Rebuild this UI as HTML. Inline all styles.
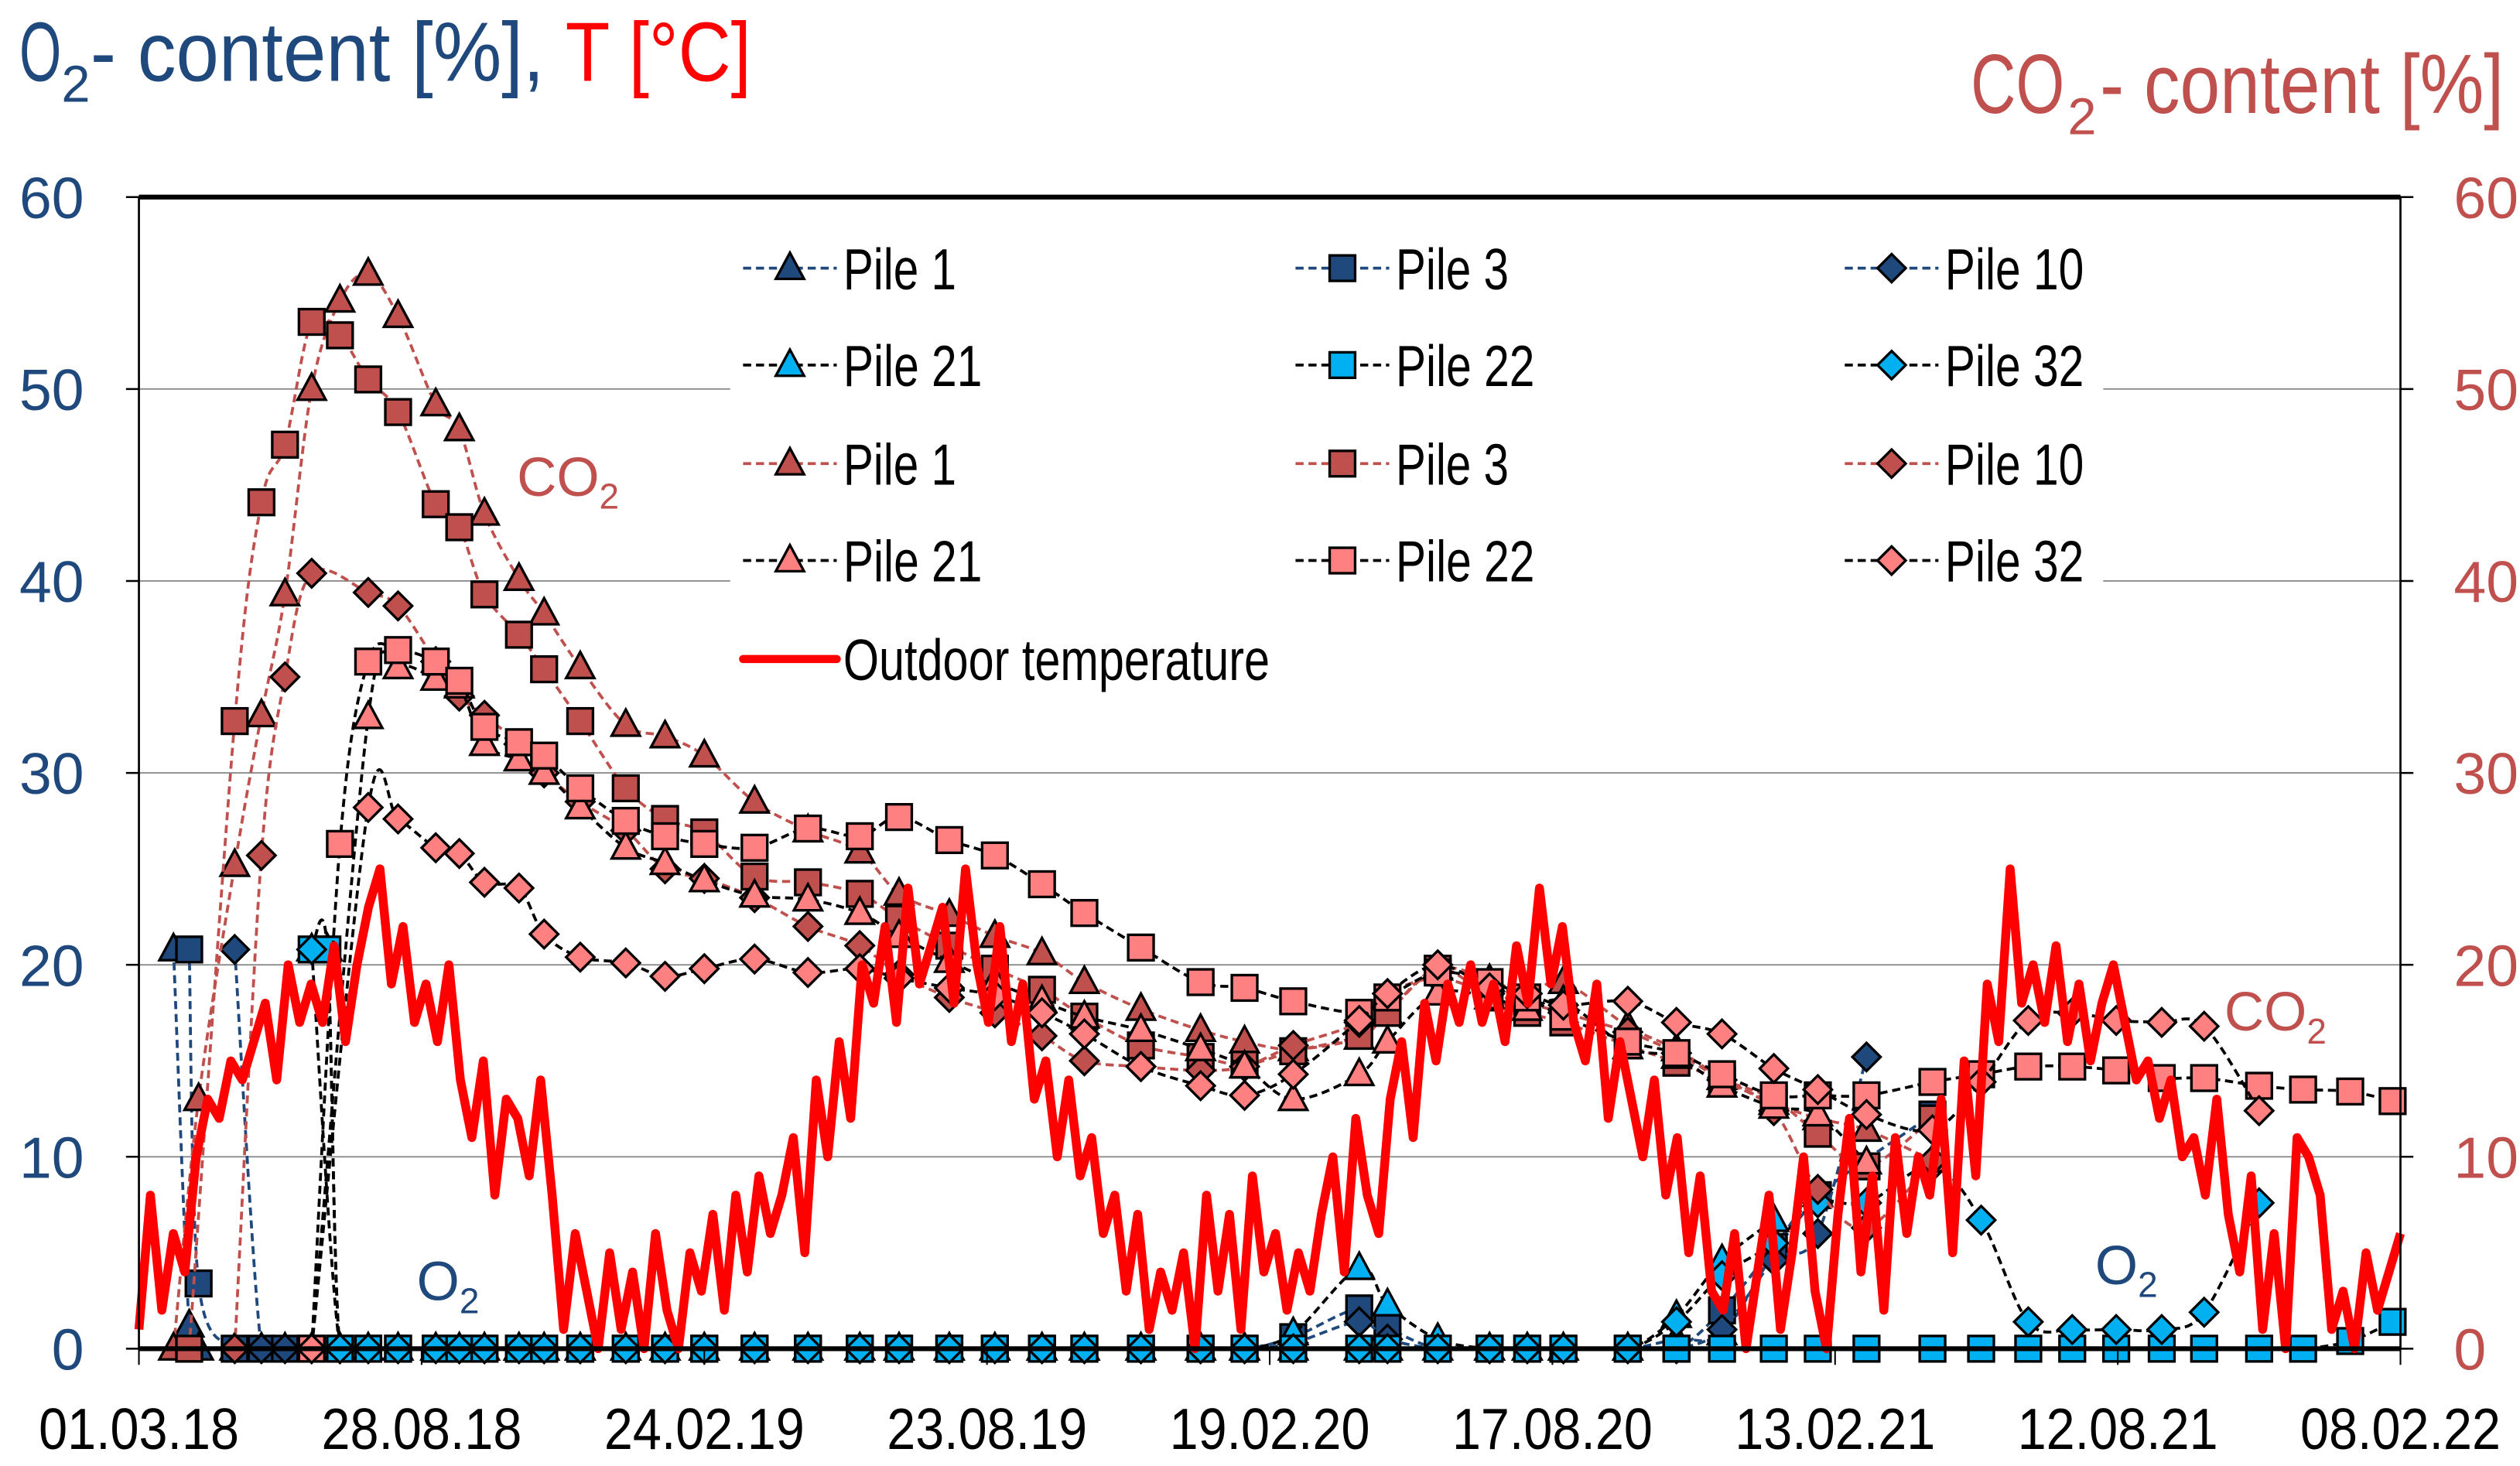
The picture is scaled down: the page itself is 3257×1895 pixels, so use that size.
<!DOCTYPE html>
<html><head><meta charset="utf-8">
<style>
html,body{margin:0;padding:0;background:#fff;}
svg{display:block;}
text{font-family:"Liberation Sans Narrow","Liberation Sans",sans-serif;}
</style></head>
<body>
<svg id="chart" width="3257" height="1895" viewBox="0 0 1560 907.6" xmlns="http://www.w3.org/2000/svg">
<rect x="0" y="0" width="1560" height="907.6" fill="#fff"/>
<g id="grid"></g>
<g id="series"></g>
<g id="axes"></g>
<g id="legend"></g>
<g>
 <text x="12" y="50" font-size="52" fill="#1f497d" textLength="26" lengthAdjust="spacingAndGlyphs">O</text>
 <text x="38" y="63" font-size="32" fill="#1f497d">2</text>
 <text x="56" y="50" font-size="52" fill="#1f497d" textLength="281" lengthAdjust="spacingAndGlyphs">- content [%],</text>
 <text x="350" y="50" font-size="52" fill="#ff0000" textLength="115" lengthAdjust="spacingAndGlyphs">T [°C]</text>
</g>
<g>
 <text x="1220" y="70" font-size="52" fill="#c0504d" textLength="58" lengthAdjust="spacingAndGlyphs">CO</text>
 <text x="1280" y="83" font-size="32" fill="#c0504d">2</text>
 <text x="1300" y="70" font-size="52" fill="#c0504d" textLength="250" lengthAdjust="spacingAndGlyphs">- content [%]</text>
</g>
<g><text x="320" y="307" font-size="34" fill="#c0504d">CO<tspan font-size="22" dy="8">2</tspan></text></g>
<g><text x="1377" y="638" font-size="34" fill="#c0504d">CO<tspan font-size="22" dy="8">2</tspan></text></g>
<g><text x="258" y="805" font-size="34" fill="#1f497d">O<tspan font-size="22" dy="8">2</tspan></text></g>
<g><text x="1297" y="795" font-size="34" fill="#1f497d">O<tspan font-size="22" dy="8">2</tspan></text></g>
</svg>
<script>
// ---- data ----
const xTickLabels = ["01.03.18","28.08.18","24.02.19","23.08.19","19.02.20","17.08.20","13.02.21","12.08.21","08.02.22"];
const yTicks = [0,10,20,30,40,50,60];
// sampling days since 01.03.18
const dates = [22,32,38,61,78, 93,110,120,128,146, 165,189,204,220,242, 258,281,310,335,360,
 392,426,459,484,516, 545,575,602,638,676, 704,735,777,795,827, 860,884,907,948,979,
 1008,1041,1069,1100,1142, 1173,1203,1231,1259,1288, 1315,1350,1378,1408,1435];
const N = null;
const co2Pile1 = [0,N,13,25.2,33, 39.3,50,N,54.6,56, 53.8,49.2,47.9,43.5,40.1, 38.3,35.5,32.5,31.9,30.9,
 28.5,27,25.9,23.7,22.6, 21.5,20.6,19.1,17.7,16.6, 16,15.6,16.2,17.5,19.8, 19.2,18.5,19.1,16.8,15.6,
 14.1,12.8,12,11.4,9.8, N,N,N,N,N, N,N,N,N,N];
const co2Pile3 = [N,0,N,32.7,44.1, 47.1,53.5,N,52.8,50.5, 48.8,44,42.8,39.3,37.2, 35.4,32.7,29.2,27.6,26.9,
 24.6,24.3,23.7,22.4,21, 19.8,18.7,17.3,15.8,15.2, 14.8,15.5,16.3,17.5,19.8, 18.3,17.5,17,15.8,14.9,
 14,13,11.2,9.5,12, N,N,N,N,N, N,N,N,N,N];
const co2Pile10 = [N,N,N,0,25.7, 35,40.4,N,N,39.4, 38.7,35.8,34,33,31.5, 30,28.5,27,25,24.5,
 23.5,22,21,19.5,18.3, 17.5,16.3,15,14.7,14.5, 14.7,15.8,17,18.5,19.3, 18.5,18,17.5,16.5,15.4,
 14,12.4,8.3,6.3,9.8, N,N,N,N,N, N,N,N,N,N];
const co2Pile21 = [N,N,N,N,N, N,0,N,N,32.9, 35.5,34.9,34.5,31.5,30.7, 30,28.2,26.1,25.3,24.4,
 23.6,23.4,22.7,21.5,20.2, 19.1,18.1,17.3,16.6,15.6, 14.7,13,14.3,16,18.5, 18.3,17.7,18.1,15.7,15.2,
 13.7,12.6,12.2,9.7,N, N,N,N,N,N, N,N,N,N,N];
const co2Pile22 = [N,N,N,N,N, N,0,N,26.3,35.8, 36.4,35.8,34.8,32.4,31.6, 30.9,29.2,27.5,26.7,26.3,
 26.1,27.1,26.7,27.7,26.5, 25.7,24.2,22.7,20.9,19.1, 18.8,18.1,17.5,18.3,19.6, 19.1,18.3,17.3,16,15.4,
 14.3,13.2,13.2,13.2,13.9, 14.3,14.7,14.7,14.5,14.1, 14.1,13.7,13.5,13.4,12.9];
const co2Pile32 = [N,N,N,N,N, N,0,N,N,28.2, 27.6,26.1,25.8,24.3,24, 21.6,20.4,20.1,19.4,19.8,
 20.3,19.6,19.8,19.3,18.8, 18.4,17.5,16.4,14.7,13.7, 13.2,14.3,17.1,18.5,20, 18.8,18.5,17.9,18.1,17,
 16.4,14.6,13.5,12.2,11.4, 13.9,17.1,17.5,17.1,17, 16.8,12.4,N,N,N];
const o2Pile1 = [20.8,1.2,0,0,0, 0,0,N,0,0, 0,0,0,0,0, 0,0,0,0,0,
 0,0,0,0,0, 0,0,0,0,0, 0,0,0,0,0, 0,0,0,0,0.5,
 0.8,5,8,N,N, N,N,N,N,N, N,N,N,N,N];
const o2Pile3 = [N,20.8,3.4,0,0, 0,0,N,0,0, 0,0,0,0,0, 0,0,0,0,0,
 0,0,0,0,0, 0,0,0,0,0, 0,0.6,2.1,1.1,0, 0,0,0,0,0,
 2,5.3,8,N,12.2, N,N,N,N,N, N,N,N,N,N];
const o2Pile10 = [N,N,N,20.8,0, 0,0,N,0,0, 0,0,0,0,0, 0,0,0,0,0,
 0,0,0,0,0, 0,0,0,0,0, 0,0.3,1.4,0.5,0, 0,0,0,0,0,
 1,4.6,6,15.2,N, N,N,N,N,N, N,N,N,N,N];
const o2Pile21 = [N,N,N,N,N, N,20.8,20.8,0,0, 0,0,0,0,0, 0,0,0,0,0,
 0,0,0,0,0, 0,0,0,0,0, 0,0.8,4.2,2.3,0.5, 0,0,0,0,1.7,
 4.6,6.7,N,N,N, N,N,N,N,N, N,N,N,N,N];
const o2Pile22 = [N,N,N,N,N, N,20.8,20.8,0,0, 0,0,0,0,0, 0,0,0,0,0,
 0,0,0,0,0, 0,0,0,0,0, 0,0,0,0,0, 0,0,0,0,0,
 0,0,0,0,0, 0,0,0,0,0, 0,0,0,0.4,1.4];
const o2Pile32 = [N,N,N,N,N, N,20.8,N,0,0, 0,0,0,0,0, 0,0,0,0,0,
 0,0,0,0,0, 0,0,0,0,0, 0,0,0,0,0, 0,0,0,0,1.4,
 3.8,5.5,7.6,7.6,9.5, 6.7,1.4,1,1,1, 1.9,7.6,N,N,N];
// outdoor temperature, approximately weekly from 01.03.18 to 08.02.22
const tempStartDay = 0, tempEndDay = 1440;
const temperature = [1,8,2,6,4, 10,13,12,15,14, 16,18,14,20,17, 19,17,21,16, 20,23,25,19,22,
 17,19,16,20,14, 11,15,8,13,12,9, 14,8,1,6, 3,0,5,1,4,0,6,2,0,5, 3,7,2,8,4,9,6,
 8,11,5,14,10,16,12, 20,18,22,17,24,19,21, 23,18,25,20,17,22, 16,19,13,15,10,14,9,
 11,6,8,3,7,1,4, 2,5,0,8,3,7,1,9,4,6,2, 5,3,7,10,4,12,8,6, 13,16,11,18,15,19,17,
 20,17,19,16,21,18,24,19, 22,17,15,19,12,16, 13,10,14,8,11,5,9,3, 2,6,0,4,8,1,5,10,
 3,0,7,12,4,9,2,11, 6,10,8,13,5,15,9, 19,16,25,18,20,17,21, 16,19,15,18,20,17,14,
 15,12,14,10,11,8,13, 7,4,9,1,6,0, 11,10,8,1,3,0, 5,2,4,6];

// ---- scales ----
const PL=86, PR=1486, PT=122, PB=835;
const xs = d => PL + d*(PR-PL)/1440;
const ys = v => PB - v*(PB-PT)/60;
const NS="http://www.w3.org/2000/svg";
function mk(tag, attrs, parent){const e=document.createElementNS(NS,tag);for(const k in attrs)e.setAttribute(k,attrs[k]);parent.appendChild(e);return e;}

const grid=document.getElementById('grid'), axes=document.getElementById('axes'), ser=document.getElementById('series'), leg=document.getElementById('legend');

yTicks.forEach(v=>{
  if(v>0&&v<60){const g=mk('line',{x1:PL,x2:PR,y1:ys(v),y2:ys(v),stroke:'#8c8c8c','stroke-width':0.9},grid);
    
    }
  const l=mk('text',{x:52,y:ys(v)+13,'font-size':36,fill:'#1f497d','text-anchor':'end'},axes);l.textContent=v;
  
  
  const r=mk('text',{x:1519,y:ys(v)+13,'font-size':36,fill:'#c0504d'},axes);r.textContent=v;
  
  
  mk('line',{x1:PL-8,x2:PL,y1:ys(v),y2:ys(v),stroke:'#000','stroke-width':1.2},axes);
  mk('line',{x1:PR,x2:PR+8,y1:ys(v),y2:ys(v),stroke:'#000','stroke-width':1.2},axes);
});
const fr=mk('rect',{x:PL,y:PT,width:PR-PL,height:PB-PT,fill:'none',stroke:'#000','stroke-width':1.3},axes);


mk('line',{x1:PL,x2:PR,y1:PT,y2:PT,stroke:'#000','stroke-width':3},axes);
const xa=mk('line',{x1:PL,x2:PR,y1:PB,y2:PB,stroke:'#000','stroke-width':3},axes);


xTickLabels.forEach((t,i)=>{
  const x=xs(i*180);
  mk('line',{x1:x,x2:x,y1:PB,y2:PB+10,stroke:'#000','stroke-width':1},axes);
  const tx=mk('text',{x:x,y:897,'font-size':36,fill:'#000','text-anchor':'middle',textLength:124,lengthAdjust:'spacingAndGlyphs'},axes);
  tx.textContent=t;
  
  
});

const clampY = y => Math.min(PB, Math.max(PT, y));
function smoothPath(pts){
  if(pts.length<2)return '';
  let d='M'+pts[0][0]+','+pts[0][1];
  for(let i=0;i<pts.length-1;i++){
    const p0=pts[i-1]||pts[i],p1=pts[i],p2=pts[i+1],p3=pts[i+2]||p2;
    const c1=[p1[0]+(p2[0]-p0[0])/6,clampY(p1[1]+(p2[1]-p0[1])/6)];
    const c2=[p2[0]-(p3[0]-p1[0])/6,clampY(p2[1]-(p3[1]-p1[1])/6)];
    d+=' C'+c1[0]+','+c1[1]+' '+c2[0]+','+c2[1]+' '+p2[0]+','+p2[1];
  }
  return d;
}
function marker(shape,x,y,fill,parent,sz){
  sz=sz||8.3;
  if(shape==='tri') return mk('polygon',{points:`${x},${y-sz*1.15} ${x-sz*1.05},${y+sz*0.8} ${x+sz*1.05},${y+sz*0.8}`,fill:fill,stroke:'#000','stroke-width':1.6},parent);
  if(shape==='sq') return mk('rect',{x:x-sz*0.95,y:y-sz*0.95,width:sz*1.9,height:sz*1.9,fill:fill,stroke:'#000','stroke-width':1.6},parent);
  return mk('polygon',{points:`${x},${y-sz*1.05} ${x+sz*1.05},${y} ${x},${y+sz*1.05} ${x-sz*1.05},${y}`,fill:fill,stroke:'#000','stroke-width':1.6},parent);
}
const BLUE='#1f497d',CYAN='#00b0f0',DRED='#c0504d',SALM='#ff8080';
const seriesDefs=[
 {name:'o2-pile-1',vals:o2Pile1,line:BLUE,fill:BLUE,shape:'tri'},
 {name:'o2-pile-3',vals:o2Pile3,line:BLUE,fill:BLUE,shape:'sq'},
 {name:'o2-pile-10',vals:o2Pile10,line:BLUE,fill:BLUE,shape:'dia'},
 {name:'o2-pile-21',vals:o2Pile21,line:'#000',fill:CYAN,shape:'tri'},
 {name:'o2-pile-22',vals:o2Pile22,line:'#000',fill:CYAN,shape:'sq'},
 {name:'o2-pile-32',vals:o2Pile32,line:'#000',fill:CYAN,shape:'dia'},
 {name:'co2-pile-1',vals:co2Pile1,line:DRED,fill:DRED,shape:'tri'},
 {name:'co2-pile-3',vals:co2Pile3,line:DRED,fill:DRED,shape:'sq'},
 {name:'co2-pile-10',vals:co2Pile10,line:DRED,fill:DRED,shape:'dia'},
 {name:'co2-pile-21',vals:co2Pile21,line:'#000',fill:SALM,shape:'tri'},
 {name:'co2-pile-22',vals:co2Pile22,line:'#000',fill:SALM,shape:'sq'},
 {name:'co2-pile-32',vals:co2Pile32,line:'#000',fill:SALM,shape:'dia'}
];
seriesDefs.forEach(s=>{
  const g=mk('g',{},ser);
  
  
  const pts=[];
  dates.forEach((d,i)=>{const v=s.vals[i];if(v!==null&&v!==undefined)pts.push([xs(d),ys(v)]);});
  const p=mk('path',{d:smoothPath(pts),fill:'none',stroke:s.line,'stroke-width':1.8,'stroke-dasharray':'5,3'},g);
  
  
  pts.forEach(q=>{
    const m=marker(s.shape,q[0],q[1],s.fill,g);
    
    
  });
});
(function(){
  const pts=temperature.map((v,i)=>[xs(tempStartDay+i*(tempEndDay-tempStartDay)/(temperature.length-1)),ys(v)]);
  const p=mk('path',{d:'M'+pts.map(q=>q[0].toFixed(1)+','+q[1].toFixed(1)).join(' L'),fill:'none',stroke:'#ff0000','stroke-width':5.5,'stroke-linejoin':'round'},ser);
  
  
})();

const bg=mk('rect',{x:452,y:138,width:850,height:298,fill:'#fff'},leg);


const cols=[460,802,1142], rows=[166,226,287,347];
const textW={'Pile 1':70,'Pile 3':70,'Pile 10':86,'Pile 21':86,'Pile 22':86,'Pile 32':86};
seriesDefs.forEach((s,i)=>{
  const r=rows[Math.floor(i/3)], c=cols[i%3];
  const g=mk('g',{},leg);
  
  
  mk('line',{x1:c,x2:c+58,y1:r,y2:r,stroke:s.line,'stroke-width':1.8,'stroke-dasharray':'5,3'},g);
  marker(s.shape,c+29,r,s.fill,g);
  const label='Pile '+s.name.split('-').pop();
  const t=mk('text',{x:c+62,y:r+13,'font-size':36,fill:'#000',textLength:textW[label],lengthAdjust:'spacingAndGlyphs'},g);
  t.textContent=label;
});
(function(){
  const g=mk('g',{},leg);
  
  
  mk('line',{x1:460,x2:518,y1:408,y2:408,stroke:'#ff0000','stroke-width':5,'stroke-linecap':'round'},g);
  const t=mk('text',{x:522,y:421,'font-size':36,fill:'#000',textLength:264,lengthAdjust:'spacingAndGlyphs'},g);
  t.textContent='Outdoor temperature';
})();
</script>
</body></html>
